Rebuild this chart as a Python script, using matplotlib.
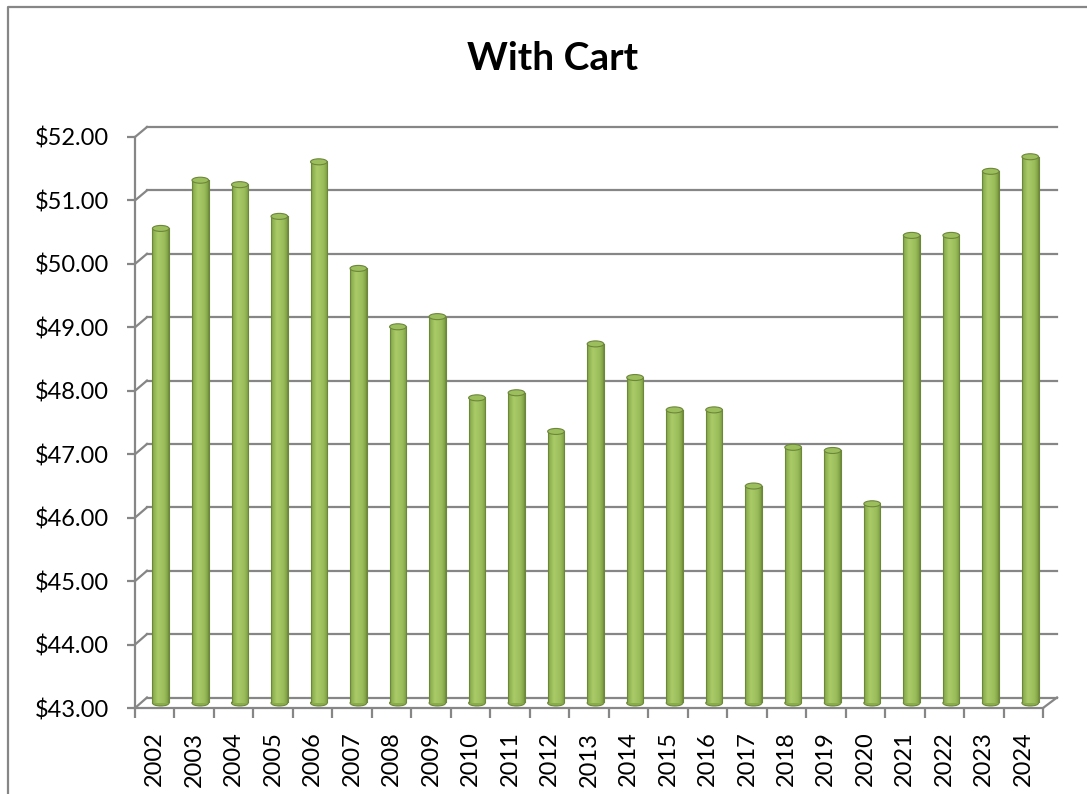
import matplotlib.pyplot as plt
import numpy as np
from matplotlib.patches import Ellipse
from matplotlib.lines import Line2D
from matplotlib.colors import to_rgb

years = ['2002', '2003', '2004', '2005', '2006', '2007', '2008', '2009', '2010', '2011', '2012',
         '2013', '2014', '2015', '2016', '2017', '2018', '2019', '2020', '2021', '2022', '2023', '2024']
prices = [50.48, 51.24, 51.17, 50.67, 51.53, 49.85, 48.93, 49.09, 47.81, 47.89, 47.28,
          48.66, 48.13, 47.62, 47.62, 46.42, 47.03, 46.98, 46.14, 50.37, 50.37, 51.38, 51.61]
y_ticks = [43, 44, 45, 46, 47, 48, 49, 50, 51, 52]

W, H = 1087, 794
grid_col = '#868686'
plt.rcParams['font.family'] = ['Lato', 'DejaVu Sans']

fig = plt.figure(figsize=(W / 100, H / 100), dpi=100)


def box(l, t, r, b):
    return [l / W, 1 - b / H, (r - l) / W, (b - t) / H]


n = len(years)
x = np.arange(n)
lims = dict(xlim=(-0.5, n - 0.5), ylim=(y_ticks[0], y_ticks[-1]))

# back wall (gridlines)
ax_back = fig.add_axes(box(147, 127, 1057, 697.5))
ax_back.set(**lims)
ax_back.axis('off')
for v in y_ticks:
    ax_back.axhline(v, color=grid_col, lw=1.6, clip_on=False)

# bars (cylinders)
ax_bar = fig.add_axes(box(141, 132, 1050, 703))
ax_bar.set(**lims)
ax_bar.axis('off')
ax_bar.patch.set_visible(False)

stops = [0.0, 0.08, 0.35, 0.75, 0.93, 1.0]
cols = [to_rgb(c) for c in ['#6F8B3C', '#8CAE4E', '#ABCB69', '#9BBC5A', '#84A447', '#6F8B3C']]
t = np.linspace(0, 1, 40)
grad = np.array([[np.interp(tt, stops, [c[k] for c in cols]) for k in range(3)] for tt in t])[None, :, :]

bw = 0.42
eh = 6 / 63.4
base = y_ticks[0]
for xi, v in zip(x, prices):
    ax_bar.add_patch(Ellipse((xi, base), bw, eh, facecolor='#8AAC4B', edgecolor='#6C873A',
                             lw=0.8, clip_on=False, zorder=1))
    ax_bar.imshow(grad, extent=[xi - bw / 2, xi + bw / 2, base, v], aspect='auto',
                  zorder=2, clip_on=False, interpolation='bilinear')
    ax_bar.plot([xi - bw / 2, xi - bw / 2], [base, v], color='#6C873A', lw=0.8, zorder=3)
    ax_bar.plot([xi + bw / 2, xi + bw / 2], [base, v], color='#6C873A', lw=0.8, zorder=3)
    ax_bar.add_patch(Ellipse((xi, v), bw, eh, facecolor='#9CBE5C', edgecolor='#6C873A',
                             lw=0.8, clip_on=False, zorder=4))
ax_bar.set(**lims)

# front axes with ticks and labels
ax = fig.add_axes(box(135, 137, 1043, 708))
ax.set(**lims)
ax.patch.set_visible(False)
for s in ['top', 'right']:
    ax.spines[s].set_visible(False)
for s in ['left', 'bottom']:
    ax.spines[s].set_color(grid_col)
    ax.spines[s].set_linewidth(1.6)
ax.set_yticks(y_ticks)
ax.set_yticklabels(['${:.2f}'.format(v) for v in y_ticks], fontsize=17)
ax.tick_params(axis='y', length=6, width=1.6, color=grid_col, pad=13)
ax.set_xticks(x)
ax.set_xticklabels(years, rotation=90, fontsize=17)
ax.tick_params(axis='x', which='major', length=0, pad=17)
ax.set_xticks(np.arange(-0.5, n), minor=True)
ax.tick_params(axis='x', which='minor', length=7, width=1.6, color=grid_col)


def to_fig(a, pt):
    return fig.transFigure.inverted().transform(a.transData.transform(pt))


# side wall diagonals and floor corner
for v in y_ticks:
    p0 = to_fig(ax, (-0.5, v))
    p1 = to_fig(ax_back, (-0.5, v))
    fig.add_artist(Line2D([p0[0], p1[0]], [p0[1], p1[1]], color=grid_col, lw=1.6))
p0 = to_fig(ax, (n - 0.5, base))
p1 = to_fig(ax_back, (n - 0.5, base))
fig.add_artist(Line2D([p0[0], p1[0]], [p0[1], p1[1]], color=grid_col, lw=1.6))

# chart border
fig.add_artist(Line2D([8 / W, 8 / W, 1], [0, 1 - 7 / H, 1 - 7 / H], color=grid_col, lw=1.6))

fig.text(553 / W, 1 - 58 / H, 'With Cart', ha='center', va='center', fontsize=28, fontweight='bold')

fig.savefig('out.png', dpi=100)
